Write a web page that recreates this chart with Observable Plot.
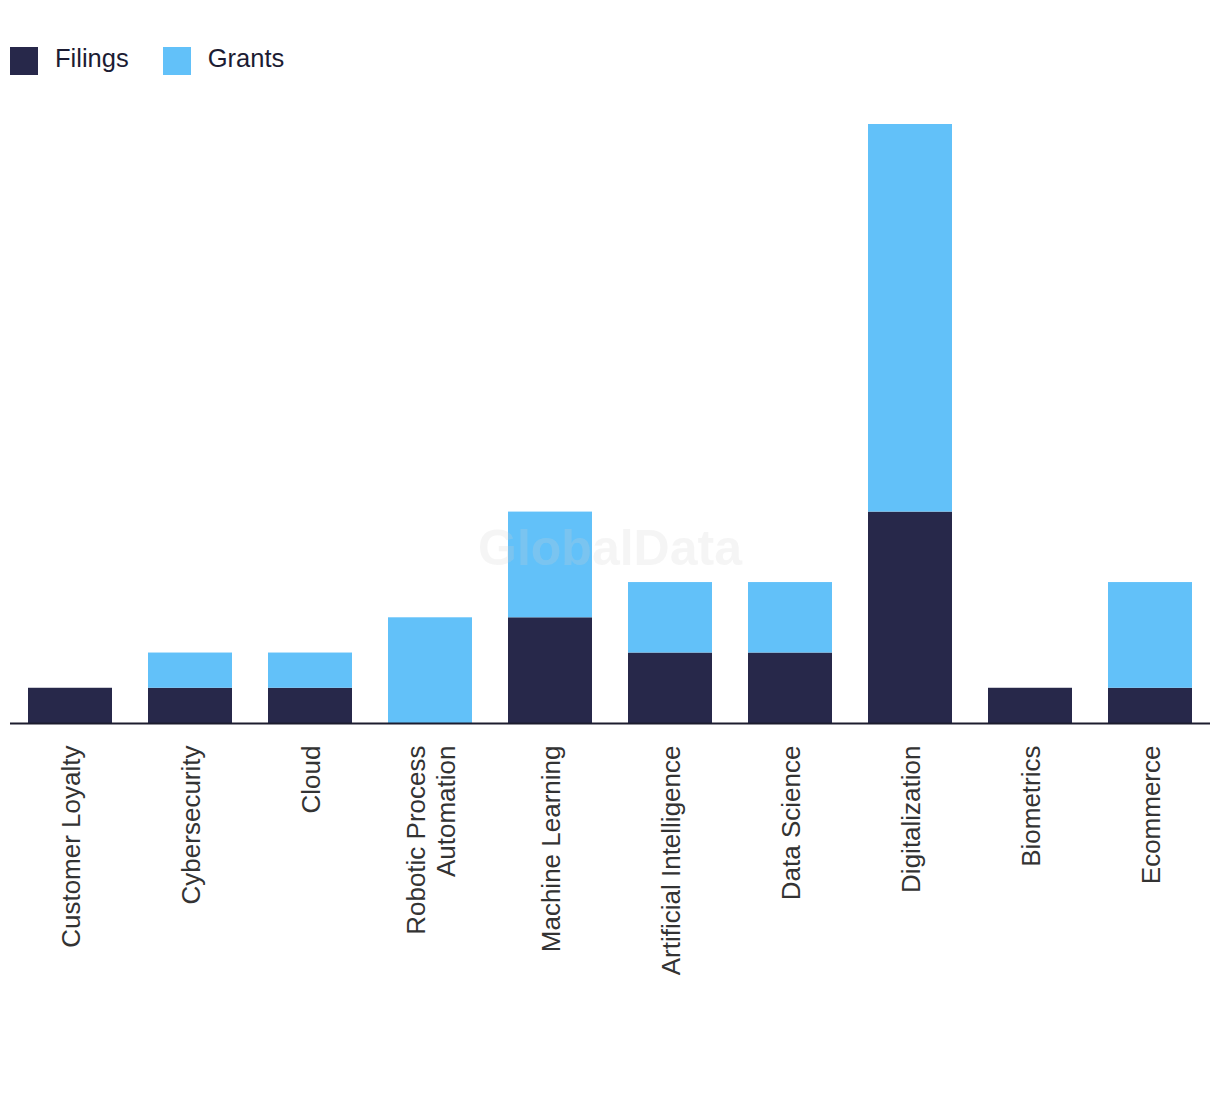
<!DOCTYPE html>
<html>
<head>
<meta charset="utf-8">
<script src="https://cdn.jsdelivr.net/npm/d3@7"></script>
<script src="https://cdn.jsdelivr.net/npm/@observablehq/plot@0.6"></script>
<style>
  body { margin: 0; background: #fff; width: 1220px; height: 1094px; position: relative; overflow: hidden; }
  #legend { position: absolute; left: 10px; top: 46px; display: flex; align-items: center; font-family: "Liberation Sans", Arial, sans-serif; font-size: 25.5px; color: #1c1c33; }
  .sw { width: 28px; height: 28px; display: inline-block; margin-right: 17px; }
  .lbl { position: relative; top: -2px; }
  .item { display: flex; align-items: center; margin-right: 34px; }
  #chart { position: absolute; left: 0; top: 100px; }
  #wm { position: absolute; left: 0; width: 1220px; top: 519px; text-align: center; font-family: "Liberation Sans", Arial, sans-serif; font-weight: bold; font-size: 50px; color: rgba(210,210,210,0.22); pointer-events: none; }
</style>
</head>
<body>
<div id="legend"></div>
<div id="chart"></div>
<div id="wm">GlobalData</div>
<script>
const categories = ["Customer Loyalty", "Cybersecurity", "Cloud", "Robotic Process\nAutomation", "Machine Learning", "Artificial Intelligence", "Data Science", "Digitalization", "Biometrics", "Ecommerce"];
const filings = [1, 1, 1, 0, 3, 2, 2, 6, 1, 1];
const grants = [0, 1, 1, 3, 3, 2, 2, 11, 0, 3];
const seriesNames = ["Filings", "Grants"];
const seriesColors = ["#27284a", "#62c1f9"];

const table = [];
categories.forEach((c, i) => table.push({category: c, series: "Filings", value: filings[i]}));
categories.forEach((c, i) => table.push({category: c, series: "Grants", value: grants[i]}));

const legend = document.getElementById("legend");
seriesNames.forEach((s, i) => {
  const it = document.createElement("div");
  it.className = "item";
  it.innerHTML = `<span class="sw" style="background:${seriesColors[i]}"></span><span class="lbl">${s}</span>`;
  legend.appendChild(it);
});

const chart = Plot.plot({
  width: 1220,
  height: 994,
  marginLeft: 10,
  marginRight: 10,
  marginTop: 24,
  marginBottom: 371,
  style: { fontFamily: "'Liberation Sans', Arial, sans-serif", fontSize: "26px", color: "#333", background: "transparent" },
  x: { domain: categories, paddingInner: 0.3, paddingOuter: 0.15, label: null },
  y: { domain: [0, 17], axis: null },
  color: { domain: seriesNames, range: seriesColors },
  marks: [
    Plot.barY(table, Plot.stackY({x: "category", y: "value", fill: "series", order: null})),
    Plot.axisX({tickSize: 0, tickPadding: 22, tickRotate: -90, label: null, fontSize: 26, lineHeight: 1.15, fill: "#333"}),
    Plot.ruleY([0], {stroke: "#1c1c2e", strokeWidth: 2})
  ]
});
document.getElementById("chart").appendChild(chart);
</script>
</body>
</html>
